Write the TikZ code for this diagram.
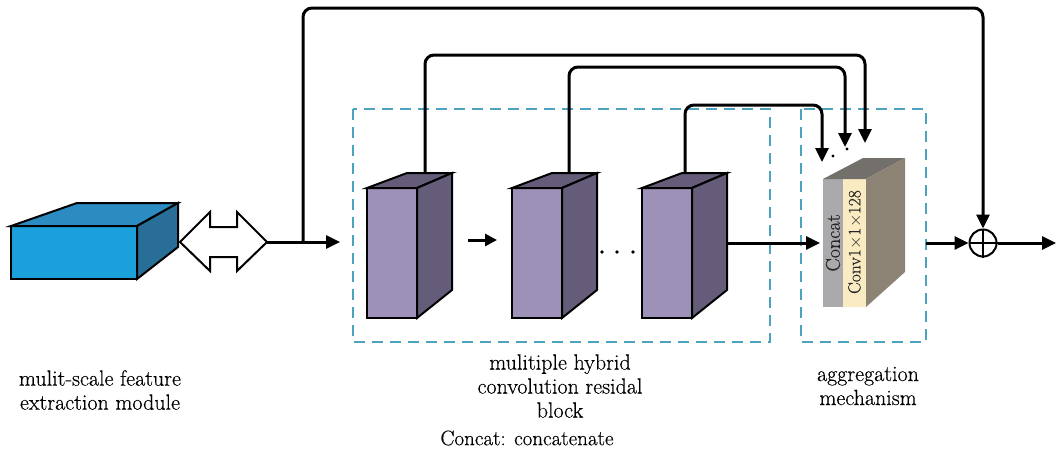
\documentclass[tikz,border=0pt]{standalone}
\usepackage{fontspec}
\newfontfamily\lblfont{Latin Modern Roman}[FakeBold=0.4]
\usetikzlibrary{arrows.meta}
\definecolor{bfront}{RGB}{28,160,220}
\definecolor{btop}{RGB}{44,139,192}
\definecolor{bside}{RGB}{40,110,150}
\definecolor{pfront}{RGB}{158,145,184}
\definecolor{pdark}{RGB}{100,92,120}
\definecolor{dashc}{RGB}{75,163,192}
\definecolor{cgray}{RGB}{170,170,172}
\definecolor{cbeige}{RGB}{250,235,195}
\definecolor{cside}{RGB}{140,131,116}
\definecolor{ctop}{RGB}{115,112,108}
\begin{document}
\begin{tikzpicture}[x=1pt,y=-1pt,
  edge/.style={draw=black,line width=2pt,line join=miter},
  conn/.style={line width=3pt,-{Triangle[length=14pt,width=13pt]}},
  dbox/.style={draw=dashc,line width=2.2pt,dash pattern=on 11pt off 7pt},
  lbl/.style={font=\lblfont\fontsize{22}{24}\selectfont,align=center},
  pic3d/.pic={
    \fill[pfront] (0,15) rectangle (50,145);
    \draw[edge,fill=pdark] (0,15)--(40,0)--(85,0)--(50,15)--cycle;
    \draw[edge,fill=pdark] (50,15)--(85,0)--(85,117)--(50,145)--cycle;
    \draw[edge] (0,15) rectangle (50,145);
  }]
\useasboundingbox (0,0) rectangle (1056,453);

% blue input block
\draw[edge,fill=bfront] (11,226) rectangle (137,279);
\draw[edge,fill=btop] (11,226)--(77,203)--(178,203)--(137,226)--cycle;
\draw[edge,fill=bside] (137,226)--(178,203)--(178,247)--(137,279)--cycle;

% double arrow
\draw[line width=2pt,fill=white,line join=miter] (180,242)--(210,212)--(210,227)--(237,227)--(237,212)--(267,242)--(237,271)--(237,257)--(210,257)--(210,271)--cycle;

% dashed boxes
\draw[dbox] (353,109) rectangle (770,342);
\draw[dbox] (801,109) rectangle (926,342);

% purple blocks
\pic at (367,173) {pic3d};
\pic at (512,173) {pic3d};
\pic at (642,173) {pic3d};

% concat block
\fill[cgray] (823,179) rectangle (843,307);
\fill[cbeige] (843,179) rectangle (866,307);
\fill[ctop] (823,179)--(863,158)--(905,158)--(866,179)--cycle;
\fill[cside] (866,179)--(905,158)--(905,272)--(866,307)--cycle;
\node[rotate=90,font=\lblfont\fontsize{20}{24}\selectfont,text=black!85] (cc) at (833,243) {Concat};
\node[rotate=90,font=\lblfont\fontsize{17.5}{20}\selectfont,text=black!85] (cv) at (855,242) {Conv1$\times$1$\times$128};

% coordinates
\coordinate (din) at (267,242);
\coordinate (split) at (303,242);
\coordinate (in1) at (340,242);
\coordinate (t1) at (425,173);
\coordinate (t2) at (569,173);
\coordinate (t3) at (685,173);
\coordinate (o3) at (727,243);
\coordinate (cin) at (820,243);
\coordinate (a1) at (865,143);
\coordinate (a2) at (845,147);
\coordinate (a3) at (822,162);
\coordinate (aout) at (926,243);
\node[circle,draw,line width=2pt,minimum size=27pt,inner sep=0pt] (plus) at (983,243) {};
\draw[line width=2pt] (plus.north)--(plus.south) (plus.west)--(plus.east);
\coordinate (fin) at (1056,243);
\coordinate (s1) at (468,240);
\coordinate (s2) at (497,240);

% connectors
\draw[conn] (din) -- (in1);
\draw[conn,rounded corners=9pt] (split) |- (983,8) -- (plus.north);
\draw[conn,rounded corners=9pt] (t1) |- (865,55) -- (a1);
\draw[conn,rounded corners=9pt] (t2) |- (845,67) -- (a2);
\draw[conn,rounded corners=9pt] (t3) |- (822,105) -- (a3);
\draw[conn] (o3) -- (cin);
\draw[conn] (aout) -- (plus.west);
\draw[conn] (plus.east) -- (fin);
\draw[line width=3pt,-{Triangle[length=12pt,width=12pt]}] (s1) -- (s2);

% dots
\fill (602,252) circle (1.8) (617,252) circle (1.8) (633,252) circle (1.8);
\fill (833,156) circle (1.6) (847,149) circle (1.6);

% labels
\node[lbl] (l1) at (100,390) {mulit-scale feature\\extraction module};
\node[lbl] (l2) at (560,386) {mulitiple hybrid\\convolution residal\\block};
\node[lbl,font=\lblfont\fontsize{21}{24}\selectfont] (l3) at (527,438) {Concat: concatenate};
\node[lbl] (l4) at (868,386) {aggregation\\mechanism};
\end{tikzpicture}
\end{document}
